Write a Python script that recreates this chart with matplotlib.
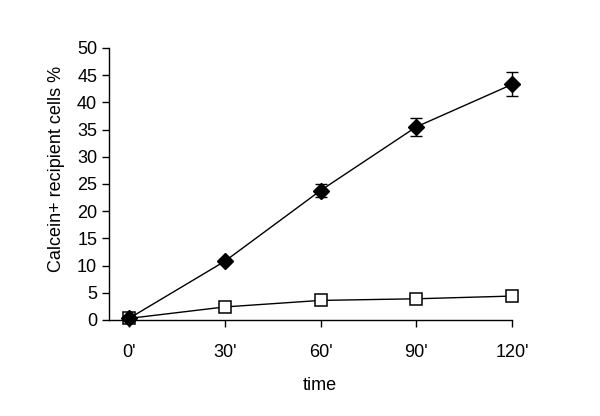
import numpy as np
import matplotlib
matplotlib.use('Agg')
import matplotlib.pyplot as plt

plt.rcParams['font.family'] = ['Liberation Sans', 'DejaVu Sans']

times = ["0'", "30'", "60'", "90'", "120'"]
filled = [0.3, 10.8, 23.8, 35.5, 43.3]
filled_err = [0.3, 0.4, 1.2, 1.7, 2.2]
empty = [0.3, 2.4, 3.6, 3.9, 4.4]

x = np.arange(len(times))

fig = plt.figure(figsize=(6, 4.16), dpi=100)
ax = fig.add_axes([109/600, 1 - 320/416, (512 - 109)/600, (320 - 48)/416])

ax.plot(x, empty, color='black', lw=1, marker='s', ms=8,
        mfc='white', mec='black', mew=1.1, zorder=2, clip_on=False)
eb = ax.errorbar(x, filled, yerr=filled_err, color='black', lw=1, marker='D',
                 ms=8, mfc='black', mec='black', capsize=4, elinewidth=1,
                 capthick=1, zorder=3)
parts = [eb.lines[0]] + list(eb.lines[1]) + list(eb.lines[2])
for a in parts:
    a.set_clip_on(False)

ax.set_xlim(-0.21, 4)
ax.set_ylim(0, 50)
ax.set_yticks(np.arange(0, 51, 5))
ax.set_xticks(x)
ax.set_xticklabels(times)

for s in ['top', 'right']:
    ax.spines[s].set_visible(False)
ax.spines['left'].set_linewidth(1)
ax.spines['bottom'].set_linewidth(1)
ax.tick_params(axis='both', direction='out', length=5, width=1, labelsize=13)
ax.tick_params(axis='x', pad=12)

ax.set_ylabel('Calcein+ recipient cells %', fontsize=13)
ax.set_xlabel('time', fontsize=13)
ax.yaxis.set_label_coords(-0.11, 0.555)
ax.xaxis.set_label_coords(0.524, -0.21)

fig.savefig('out.png', dpi=100)
